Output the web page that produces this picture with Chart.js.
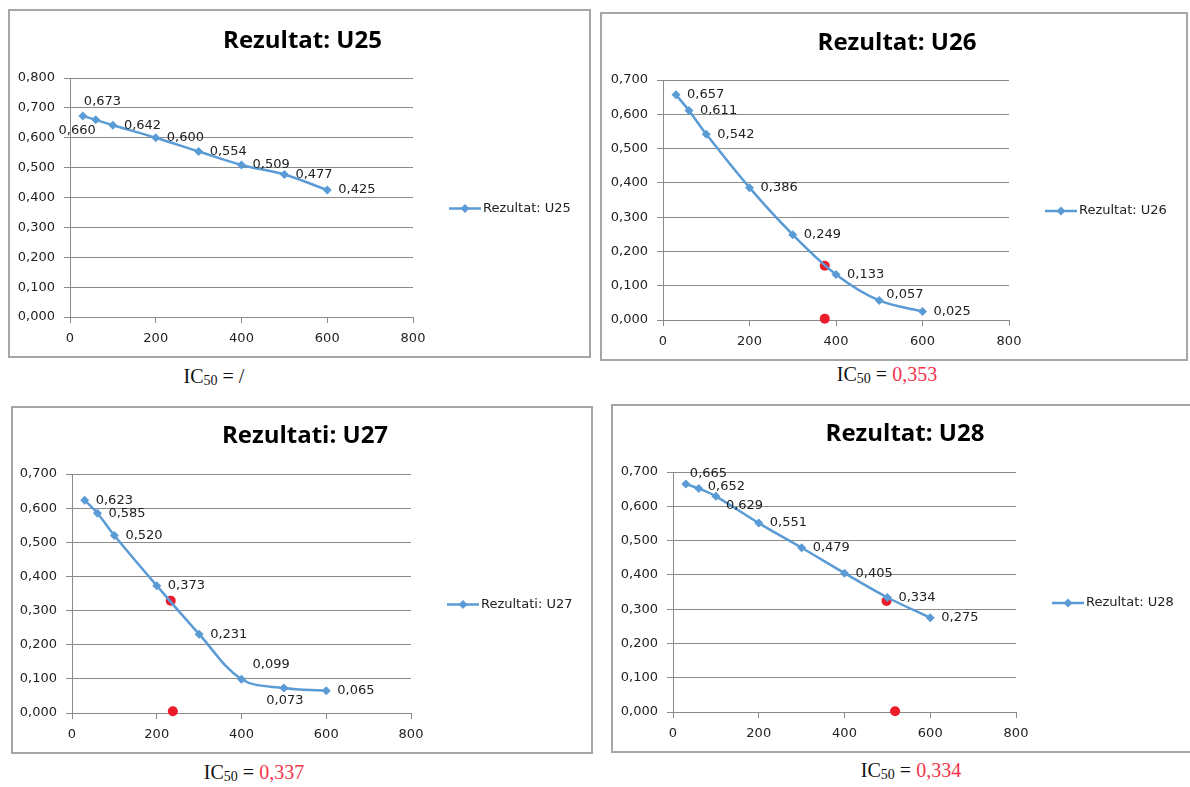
<!DOCTYPE html>
<html>
<head>
<meta charset="utf-8">
<script src="https://cdn.jsdelivr.net/npm/chart.js@4.4.1/dist/chart.umd.min.js"></script>
<style>
html, body { margin: 0; padding: 0; background: #fff; }
body { width: 1190px; height: 787px; position: relative; overflow: hidden; }
.frame { position: absolute; box-sizing: border-box; border: 2px solid #a6a6a6; background: #fff; }
.frame canvas { display: block; }
.cap { position: absolute; transform: translate(-50%, -50%); font-family: "Liberation Serif", "Times New Roman", serif; font-size: 20px; color: #111; white-space: nowrap; }
.cap sub { font-size: 14px; vertical-align: -2px; }
.cap .v { color: #f2334b; }
</style>
</head>
<body>
<div class="frame" style="left:8px;top:9px;width:583px;height:349px"><canvas id="c25" width="579" height="345"></canvas></div>
<div class="frame" style="left:600px;top:12px;width:588px;height:349px"><canvas id="c26" width="584" height="345"></canvas></div>
<div class="frame" style="left:11px;top:406px;width:582px;height:348px"><canvas id="c27" width="578" height="344"></canvas></div>
<div class="frame" style="left:611px;top:404px;width:582px;height:349px"><canvas id="c28" width="578" height="345"></canvas></div>

<div class="cap" style="left:214px;top:377px">IC<sub>50</sub> = /</div>
<div class="cap" style="left:887px;top:375px">IC<sub>50</sub> = <span class="v">0,353</span></div>
<div class="cap" style="left:254px;top:773px">IC<sub>50</sub> = <span class="v">0,337</span></div>
<div class="cap" style="left:911px;top:771px">IC<sub>50</sub> = <span class="v">0,334</span></div>

<script>
// koncentracije (x) i apsorbancije (y)
const conc = [30, 60, 100, 200, 300, 400, 500, 600];
const u25 = [0.673, 0.660, 0.642, 0.600, 0.554, 0.509, 0.477, 0.425];
const u26 = [0.657, 0.611, 0.542, 0.386, 0.249, 0.133, 0.057, 0.025];
const u27 = [0.623, 0.585, 0.520, 0.373, 0.231, 0.099, 0.073, 0.065];
const u28 = [0.665, 0.652, 0.629, 0.551, 0.479, 0.405, 0.334, 0.275];

// crvene tocke (IC50)
const u26RedX = [374, 374];
const u26RedY = [0.158, 0.004];
const u27RedX = [233, 238];
const u27RedY = [0.329, 0.005];
const u28RedX = [498, 518];
const u28RedY = [0.324, 0.002];

const xMax = 800;
const xStep = 200;
const yStep = 0.1;

const BLUE = '#5b9bd5';
const RED = '#ec1c2a';
const GRID = '#8a8a8a';

Chart.defaults.font.family = '"DejaVu Sans", sans-serif';
Chart.defaults.font.size = 13;
Chart.defaults.color = '#222';

function fmt(v) {
    return v.toFixed(3).replace('.', ',');
}

const pointLabels = {
    id: 'pointLabels',
    afterDatasetsDraw(chart, args, opts) {
        const ctx = chart.ctx;
        const meta = chart.getDatasetMeta(0);
        const vals = chart.data.datasets[0].data;
        const tweaks = opts.tweaks || {};
        ctx.save();
        ctx.font = '13px "DejaVu Sans"';
        ctx.fillStyle = '#222';
        ctx.textBaseline = 'middle';
        meta.data.forEach((pt, i) => {
            const t = tweaks[i] || {};
            ctx.textAlign = t.align || 'left';
            ctx.fillText(fmt(vals[i].y), pt.x + (t.dx ?? 11), pt.y + (t.dy ?? 0));
        });
        ctx.restore();
    }
};

const sideLegend = {
    id: 'sideLegend',
    afterDraw(chart) {
        const ctx = chart.ctx;
        const a = chart.chartArea;
        const x0 = a.right + 36;
        const y = (a.top + a.bottom) / 2 + 11;
        ctx.save();
        ctx.strokeStyle = BLUE;
        ctx.lineWidth = 2.5;
        ctx.beginPath();
        ctx.moveTo(x0, y);
        ctx.lineTo(x0 + 32, y);
        ctx.stroke();
        ctx.fillStyle = BLUE;
        ctx.beginPath();
        ctx.moveTo(x0 + 16, y - 4.5);
        ctx.lineTo(x0 + 20.5, y);
        ctx.lineTo(x0 + 16, y + 4.5);
        ctx.lineTo(x0 + 11.5, y);
        ctx.closePath();
        ctx.fill();
        ctx.fillStyle = '#222';
        ctx.font = '13px "DejaVu Sans"';
        ctx.textBaseline = 'middle';
        ctx.textAlign = 'left';
        ctx.fillText(chart.data.datasets[0].label, x0 + 34, y);
        ctx.restore();
    }
};

function makeChart(id, title, vals, yMax, redX, redY, box, tweaks) {
    const canvas = document.getElementById(id);
    const W = canvas.width, H = canvas.height;
    const tSize = 24;
    const datasets = [{
        label: title,
        data: conc.map((x, i) => ({ x: x, y: vals[i] })),
        borderColor: BLUE,
        backgroundColor: BLUE,
        borderWidth: 2.5,
        pointStyle: 'rectRot',
        pointRadius: 4.5,
        pointBorderWidth: 0,
        tension: 0.35,
        clip: false
    }];
    if (redX) {
        datasets.push({
            label: 'IC50',
            data: redX.map((x, i) => ({ x: x, y: redY[i] })),
            showLine: false,
            pointStyle: 'circle',
            pointRadius: 5,
            borderWidth: 0,
            backgroundColor: RED,
            borderColor: RED,
            clip: false
        });
    }
    return new Chart(canvas, {
        type: 'line',
        data: { datasets: datasets },
        options: {
            responsive: false,
            animation: false,
            layout: { padding: { left: 6, right: 0, top: 0, bottom: 4 } },
            plugins: {
                legend: { display: false },
                tooltip: { enabled: false },
                title: {
                    display: true,
                    text: title,
                    color: '#000',
                    font: { family: '"Open Sans", sans-serif', weight: 'bold', size: tSize },
                    padding: { top: box.titleY - tSize * 0.6, bottom: box.top - box.titleY - tSize * 0.6 }
                },
                pointLabels: { tweaks: tweaks }
            },
            scales: {
                x: {
                    type: 'linear',
                    min: 0,
                    max: xMax,
                    ticks: { stepSize: xStep, padding: 8, maxRotation: 0 },
                    grid: { drawOnChartArea: false, drawTicks: true, tickLength: 6, color: GRID },
                    border: { color: GRID, width: 1 },
                    afterFit: s => { s.height = H - box.bottom - 4; }
                },
                y: {
                    min: 0,
                    max: yMax,
                    ticks: { stepSize: yStep, padding: 9, callback: v => fmt(v) },
                    grid: { color: GRID, tickLength: 6 },
                    border: { color: GRID, width: 1 },
                    afterFit: s => { s.width = box.left - 6; }
                },
                // prazna os desno - ostavlja mjesto za legendu
                side: {
                    position: 'right',
                    display: true,
                    ticks: { display: false },
                    grid: { display: false, drawTicks: false },
                    border: { display: false },
                    afterFit: s => { s.width = W - box.right; }
                }
            }
        },
        plugins: [pointLabels, sideLegend]
    });
}

makeChart('c25', 'Rezultat: U25', u25, 0.8, null, null,
    { left: 60, right: 403, top: 67, bottom: 306, titleY: 30 },
    { 0: { dx: 1, dy: -14 }, 1: { dx: 0, dy: 11, align: 'right' } });

makeChart('c26', 'Rezultat: U26', u26, 0.7, u26RedX, u26RedY,
    { left: 61, right: 407, top: 66, bottom: 306, titleY: 29 },
    { 6: { dx: 7, dy: -6 } });

makeChart('c27', 'Rezultati: U27', u27, 0.7, u27RedX, u27RedY,
    { left: 59, right: 398, top: 66, bottom: 305, titleY: 28 },
    { 5: { dx: 11, dy: -15 }, 6: { dx: 1, dy: 13, align: 'center' } });

makeChart('c28', 'Rezultat: U28', u28, 0.7, u28RedX, u28RedY,
    { left: 60, right: 403, top: 66, bottom: 306, titleY: 28 },
    { 0: { dx: 4, dy: -10 }, 1: { dx: 9, dy: -2 }, 2: { dx: 10, dy: 9 } });
</script>
</body>
</html>
